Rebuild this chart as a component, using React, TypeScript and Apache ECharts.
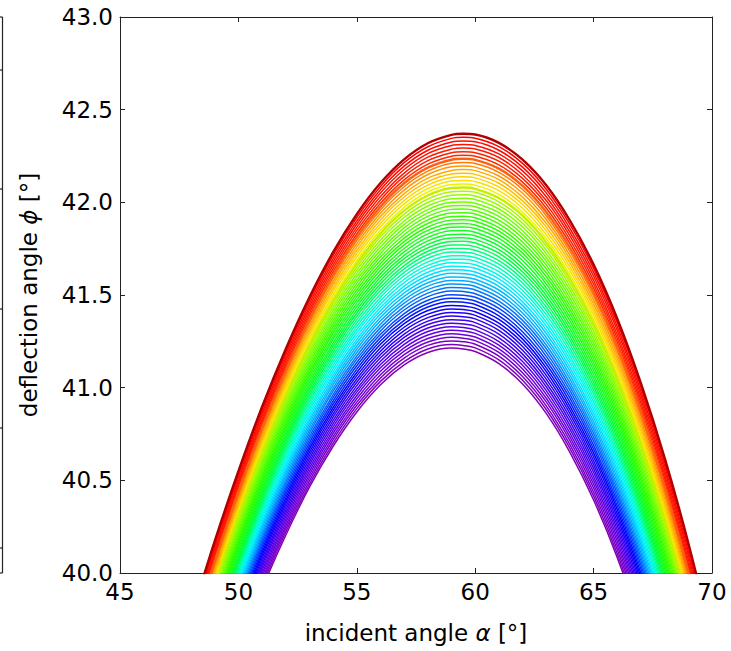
import React, { useEffect, useRef } from "react";
import * as echarts from "echarts";

// incident angle alpha (deg) at which each curve is sampled
const incidentAngles = [48, 49, 50, 51, 52, 53, 54, 55, 56, 57, 58, 59, 59.5, 60, 61, 62, 63, 64, 65, 66, 67, 68, 69, 70];

// deflection angle phi (deg); one row per incident angle, one entry per curve (curve 0 = top/red ... curve 60 = bottom/violet)
const deflectionByAngle: number[][] = [
  [39.762,39.747,39.731,39.716,39.701,39.685,39.670,39.655,39.639,39.624,39.609,39.593,39.578,39.563,39.547,39.532,39.517,39.501,39.486,39.471,39.455,39.440,39.425,39.409,39.394,39.379,39.363,39.348,39.333,39.317,39.302,39.287,39.271,39.256,39.241,39.225,39.210,39.195,39.179,39.164,39.149,39.133,39.118,39.103,39.087,39.072,39.057,39.041,39.026,39.011,38.995,38.980,38.965,38.949,38.934,38.919,38.903,38.888,38.873,38.857,38.842],
  [40.172,40.156,40.141,40.125,40.109,40.094,40.078,40.062,40.047,40.031,40.015,39.999,39.984,39.968,39.952,39.937,39.921,39.905,39.890,39.874,39.858,39.843,39.827,39.811,39.796,39.780,39.764,39.749,39.733,39.717,39.702,39.686,39.670,39.654,39.639,39.623,39.607,39.592,39.576,39.560,39.545,39.529,39.513,39.498,39.482,39.466,39.451,39.435,39.419,39.404,39.388,39.372,39.356,39.341,39.325,39.309,39.294,39.278,39.262,39.247,39.231],
  [40.549,40.533,40.517,40.501,40.485,40.469,40.453,40.437,40.421,40.405,40.389,40.373,40.357,40.341,40.325,40.309,40.293,40.276,40.260,40.244,40.228,40.212,40.196,40.180,40.164,40.148,40.132,40.116,40.100,40.084,40.068,40.052,40.036,40.020,40.004,39.988,39.972,39.956,39.940,39.924,39.908,39.892,39.876,39.860,39.844,39.828,39.811,39.795,39.779,39.763,39.747,39.731,39.715,39.699,39.683,39.667,39.651,39.635,39.619,39.603,39.587],
  [40.897,40.881,40.864,40.848,40.831,40.815,40.799,40.782,40.766,40.750,40.733,40.717,40.700,40.684,40.668,40.651,40.635,40.619,40.602,40.586,40.569,40.553,40.537,40.520,40.504,40.487,40.471,40.455,40.438,40.422,40.406,40.389,40.373,40.356,40.340,40.324,40.307,40.291,40.274,40.258,40.242,40.225,40.209,40.193,40.176,40.160,40.143,40.127,40.111,40.094,40.078,40.061,40.045,40.029,40.012,39.996,39.980,39.963,39.947,39.930,39.914],
  [41.209,41.192,41.176,41.159,41.142,41.125,41.109,41.092,41.075,41.058,41.042,41.025,41.008,40.991,40.975,40.958,40.941,40.924,40.908,40.891,40.874,40.857,40.841,40.824,40.807,40.790,40.774,40.757,40.740,40.723,40.707,40.690,40.673,40.656,40.640,40.623,40.606,40.589,40.573,40.556,40.539,40.522,40.506,40.489,40.472,40.455,40.439,40.422,40.405,40.388,40.372,40.355,40.338,40.321,40.305,40.288,40.271,40.254,40.238,40.221,40.204],
  [41.488,41.471,41.454,41.437,41.420,41.403,41.386,41.368,41.351,41.334,41.317,41.300,41.283,41.266,41.249,41.232,41.215,41.198,41.181,41.163,41.146,41.129,41.112,41.095,41.078,41.061,41.044,41.027,41.010,40.993,40.976,40.958,40.941,40.924,40.907,40.890,40.873,40.856,40.839,40.822,40.805,40.788,40.771,40.753,40.736,40.719,40.702,40.685,40.668,40.651,40.634,40.617,40.600,40.583,40.566,40.548,40.531,40.514,40.497,40.480,40.463],
  [41.731,41.714,41.696,41.679,41.661,41.644,41.626,41.609,41.591,41.574,41.557,41.539,41.522,41.504,41.487,41.469,41.452,41.434,41.417,41.399,41.382,41.365,41.347,41.330,41.312,41.295,41.277,41.260,41.242,41.225,41.208,41.190,41.173,41.155,41.138,41.120,41.103,41.085,41.068,41.050,41.033,41.016,40.998,40.981,40.963,40.946,40.928,40.911,40.893,40.876,40.859,40.841,40.824,40.806,40.789,40.771,40.754,40.736,40.719,40.701,40.684],
  [41.936,41.918,41.900,41.883,41.865,41.847,41.829,41.812,41.794,41.776,41.758,41.740,41.723,41.705,41.687,41.669,41.651,41.634,41.616,41.598,41.580,41.563,41.545,41.527,41.509,41.491,41.474,41.456,41.438,41.420,41.403,41.385,41.367,41.349,41.331,41.314,41.296,41.278,41.260,41.242,41.225,41.207,41.189,41.171,41.154,41.136,41.118,41.100,41.082,41.065,41.047,41.029,41.011,40.993,40.976,40.958,40.940,40.922,40.905,40.887,40.869],
  [42.104,42.086,42.068,42.050,42.031,42.013,41.995,41.977,41.959,41.941,41.923,41.905,41.886,41.868,41.850,41.832,41.814,41.796,41.778,41.759,41.741,41.723,41.705,41.687,41.669,41.651,41.633,41.614,41.596,41.578,41.560,41.542,41.524,41.506,41.487,41.469,41.451,41.433,41.415,41.397,41.379,41.361,41.342,41.324,41.306,41.288,41.270,41.252,41.234,41.215,41.197,41.179,41.161,41.143,41.125,41.107,41.089,41.070,41.052,41.034,41.016],
  [42.232,42.214,42.195,42.177,42.158,42.140,42.121,42.103,42.084,42.066,42.047,42.029,42.010,41.992,41.973,41.955,41.936,41.918,41.899,41.881,41.862,41.844,41.825,41.807,41.788,41.770,41.751,41.733,41.714,41.696,41.678,41.659,41.641,41.622,41.604,41.585,41.567,41.548,41.530,41.511,41.493,41.474,41.456,41.437,41.419,41.400,41.382,41.363,41.345,41.326,41.308,41.289,41.271,41.252,41.234,41.215,41.197,41.178,41.160,41.141,41.123],
  [42.319,42.300,42.281,42.263,42.244,42.225,42.206,42.187,42.168,42.150,42.131,42.112,42.093,42.074,42.056,42.037,42.018,41.999,41.980,41.961,41.943,41.924,41.905,41.886,41.867,41.849,41.830,41.811,41.792,41.773,41.755,41.736,41.717,41.698,41.679,41.660,41.642,41.623,41.604,41.585,41.566,41.548,41.529,41.510,41.491,41.472,41.453,41.435,41.416,41.397,41.378,41.359,41.341,41.322,41.303,41.284,41.265,41.246,41.228,41.209,41.190],
  [42.364,42.345,42.326,42.307,42.287,42.268,42.249,42.230,42.211,42.192,42.172,42.153,42.134,42.115,42.096,42.077,42.057,42.038,42.019,42.000,41.981,41.962,41.942,41.923,41.904,41.885,41.866,41.847,41.827,41.808,41.789,41.770,41.751,41.732,41.712,41.693,41.674,41.655,41.636,41.617,41.597,41.578,41.559,41.540,41.521,41.502,41.482,41.463,41.444,41.425,41.406,41.387,41.367,41.348,41.329,41.310,41.291,41.272,41.252,41.233,41.214],
  [42.370,42.351,42.331,42.312,42.293,42.273,42.254,42.235,42.215,42.196,42.177,42.157,42.138,42.118,42.099,42.080,42.060,42.041,42.022,42.002,41.983,41.964,41.944,41.925,41.906,41.886,41.867,41.848,41.828,41.809,41.790,41.770,41.751,41.731,41.712,41.693,41.673,41.654,41.635,41.615,41.596,41.577,41.557,41.538,41.519,41.499,41.480,41.461,41.441,41.422,41.403,41.383,41.364,41.344,41.325,41.306,41.286,41.267,41.248,41.228,41.209],
  [42.366,42.346,42.327,42.307,42.288,42.268,42.249,42.229,42.210,42.190,42.171,42.151,42.132,42.112,42.093,42.073,42.054,42.034,42.015,41.995,41.976,41.956,41.937,41.917,41.898,41.878,41.859,41.839,41.820,41.800,41.781,41.761,41.741,41.722,41.702,41.683,41.663,41.644,41.624,41.605,41.585,41.566,41.546,41.527,41.507,41.488,41.468,41.449,41.429,41.410,41.390,41.371,41.351,41.332,41.312,41.293,41.273,41.254,41.234,41.215,41.195],
  [42.321,42.301,42.281,42.261,42.242,42.222,42.202,42.182,42.162,42.142,42.123,42.103,42.083,42.063,42.043,42.023,42.003,41.984,41.964,41.944,41.924,41.904,41.884,41.864,41.845,41.825,41.805,41.785,41.765,41.745,41.726,41.706,41.686,41.666,41.646,41.626,41.606,41.587,41.567,41.547,41.527,41.507,41.487,41.467,41.448,41.428,41.408,41.388,41.368,41.348,41.329,41.309,41.289,41.269,41.249,41.229,41.209,41.190,41.170,41.150,41.130],
  [42.230,42.210,42.190,42.170,42.149,42.129,42.109,42.089,42.069,42.049,42.028,42.008,41.988,41.968,41.948,41.928,41.907,41.887,41.867,41.847,41.827,41.807,41.786,41.766,41.746,41.726,41.706,41.686,41.665,41.645,41.625,41.605,41.585,41.565,41.544,41.524,41.504,41.484,41.464,41.444,41.423,41.403,41.383,41.363,41.343,41.323,41.302,41.282,41.262,41.242,41.222,41.202,41.181,41.161,41.141,41.121,41.101,41.081,41.060,41.040,41.020],
  [42.092,42.071,42.051,42.030,42.010,41.989,41.969,41.948,41.928,41.907,41.887,41.866,41.846,41.825,41.805,41.784,41.764,41.743,41.723,41.702,41.682,41.661,41.641,41.620,41.600,41.579,41.559,41.538,41.518,41.497,41.477,41.456,41.435,41.415,41.394,41.374,41.353,41.333,41.312,41.292,41.271,41.251,41.230,41.210,41.189,41.169,41.148,41.128,41.107,41.087,41.066,41.046,41.025,41.005,40.984,40.964,40.943,40.923,40.902,40.882,40.861],
  [41.902,41.881,41.860,41.839,41.819,41.798,41.777,41.756,41.735,41.714,41.694,41.673,41.652,41.631,41.610,41.589,41.568,41.548,41.527,41.506,41.485,41.464,41.443,41.422,41.402,41.381,41.360,41.339,41.318,41.297,41.277,41.256,41.235,41.214,41.193,41.172,41.151,41.131,41.110,41.089,41.068,41.047,41.026,41.005,40.985,40.964,40.943,40.922,40.901,40.880,40.860,40.839,40.818,40.797,40.776,40.755,40.734,40.714,40.693,40.672,40.651],
  [41.664,41.643,41.622,41.601,41.579,41.558,41.537,41.516,41.495,41.474,41.452,41.431,41.410,41.389,41.368,41.347,41.325,41.304,41.283,41.262,41.241,41.220,41.198,41.177,41.156,41.135,41.114,41.093,41.071,41.050,41.029,41.008,40.987,40.966,40.944,40.923,40.902,40.881,40.860,40.839,40.817,40.796,40.775,40.754,40.733,40.712,40.690,40.669,40.648,40.627,40.606,40.585,40.563,40.542,40.521,40.500,40.479,40.458,40.436,40.415,40.394],
  [41.372,41.351,41.329,41.308,41.286,41.265,41.243,41.222,41.200,41.179,41.157,41.136,41.114,41.093,41.071,41.050,41.028,41.007,40.985,40.964,40.942,40.921,40.899,40.878,40.856,40.835,40.813,40.792,40.770,40.749,40.728,40.706,40.685,40.663,40.642,40.620,40.599,40.577,40.556,40.534,40.513,40.491,40.470,40.448,40.427,40.405,40.384,40.362,40.341,40.319,40.298,40.276,40.255,40.233,40.212,40.190,40.169,40.147,40.126,40.104,40.083],
  [41.023,41.001,40.979,40.958,40.936,40.914,40.892,40.870,40.849,40.827,40.805,40.783,40.761,40.740,40.718,40.696,40.674,40.652,40.631,40.609,40.587,40.565,40.543,40.522,40.500,40.478,40.456,40.434,40.413,40.391,40.369,40.347,40.325,40.304,40.282,40.260,40.238,40.216,40.195,40.173,40.151,40.129,40.107,40.086,40.064,40.042,40.020,39.998,39.977,39.955,39.933,39.911,39.889,39.868,39.846,39.824,39.802,39.780,39.759,39.737,39.715],
  [40.621,40.599,40.577,40.555,40.533,40.511,40.488,40.466,40.444,40.422,40.400,40.378,40.356,40.334,40.312,40.290,40.267,40.245,40.223,40.201,40.179,40.157,40.135,40.113,40.091,40.069,40.046,40.024,40.002,39.980,39.958,39.936,39.914,39.892,39.870,39.848,39.825,39.803,39.781,39.759,39.737,39.715,39.693,39.671,39.649,39.627,39.604,39.582,39.560,39.538,39.516,39.494,39.472,39.450,39.428,39.406,39.383,39.361,39.339,39.317,39.295],
  [40.162,40.140,40.117,40.095,40.072,40.050,40.028,40.005,39.983,39.960,39.938,39.916,39.893,39.871,39.848,39.826,39.804,39.781,39.759,39.736,39.714,39.692,39.669,39.647,39.624,39.602,39.580,39.557,39.535,39.512,39.490,39.468,39.445,39.423,39.400,39.378,39.356,39.333,39.311,39.288,39.266,39.244,39.221,39.199,39.176,39.154,39.132,39.109,39.087,39.064,39.042,39.020,38.997,38.975,38.952,38.930,38.908,38.885,38.863,38.840,38.818],
  [39.642,39.619,39.597,39.574,39.551,39.529,39.506,39.483,39.461,39.438,39.415,39.393,39.370,39.347,39.325,39.302,39.279,39.257,39.234,39.211,39.189,39.166,39.143,39.121,39.098,39.075,39.053,39.030,39.007,38.985,38.962,38.939,38.917,38.894,38.871,38.849,38.826,38.803,38.781,38.758,38.735,38.713,38.690,38.667,38.645,38.622,38.599,38.577,38.554,38.531,38.509,38.486,38.463,38.441,38.418,38.395,38.373,38.350,38.327,38.305,38.282],
];

const xRange = [45, 70];
const xStep = 5;
const yRange = [40, 43];
const yStep = 0.5;
const xTitle = "incident angle {i|α} [°]";
const yTitle = "deflection angle {i|ϕ} [°]";

// ---- styling ----
const FONT = "DejaVu Sans";
const FS = 23;
const colorStops: [number, [number, number, number]][] = [
  [0, [176, 0, 0]],
  [1, [255, 0, 0]],
  [6, [255, 40, 0]],
  [7, [255, 96, 16]],
  [9, [255, 150, 0]],
  [12, [255, 210, 0]],
  [14, [240, 240, 0]],
  [15, [196, 240, 0]],
  [18, [128, 255, 0]],
  [24, [40, 255, 0]],
  [30, [0, 255, 60]],
  [34, [0, 255, 190]],
  [37, [0, 240, 255]],
  [41, [0, 170, 255]],
  [45, [0, 70, 255]],
  [48, [0, 0, 255]],
  [52, [60, 0, 240]],
  [56, [110, 0, 220]],
  [60, [131, 0, 181]],
];

function colorFor(k: number): string {
  for (let i = 0; i < colorStops.length - 1; i++) {
    const [k0, c0] = colorStops[i];
    const [k1, c1] = colorStops[i + 1];
    if (k >= k0 && k <= k1) {
      const t = k1 === k0 ? 0 : (k - k0) / (k1 - k0);
      const c = c0.map((v, j) => Math.round(v + (c1[j] - v) * t));
      return `rgb(${c[0]},${c[1]},${c[2]})`;
    }
  }
  const c = colorStops[colorStops.length - 1][1];
  return `rgb(${c[0]},${c[1]},${c[2]})`;
}

export default function App() {
  const ref = useRef<HTMLDivElement>(null);

  useEffect(() => {
    if (!ref.current) return;
    const chart = echarts.init(ref.current, null, { renderer: "svg" });
    const curveCount = deflectionByAngle[0].length;
    const series: any[] = [];
    for (let k = curveCount - 1; k >= 0; k--) {
      const emph = k === 0 || k === 7 || k === 15;
      series.push({
        type: "line",
        data: incidentAngles.map((a, j) => [a, deflectionByAngle[j][k]]),
        symbol: "none",
        showSymbol: false,
        smooth: 0.35,
        clip: true,
        silent: true,
        animation: false,
        z: emph ? 3 : 2,
        lineStyle: { color: colorFor(k), width: emph ? 2.4 : 1.5 },
        emphasis: { disabled: true },
      });
    }

    const axisLine = { show: true, onZero: false, lineStyle: { color: "#222", width: 1 } };
    const axisTick = { show: true, inside: true, length: 5, lineStyle: { color: "#222", width: 1 } };
    const labelStyle = { color: "#000", fontFamily: FONT, fontSize: FS };
    const nameStyle = {
      color: "#000",
      fontFamily: FONT,
      fontSize: FS,
      rich: { i: { fontStyle: "italic", color: "#000", fontFamily: FONT, fontSize: FS } },
    };

    const tickY = [70, 189, 309, 428, 548];
    const graphic: any[] = [
      { type: "line", shape: { x1: 2.5, y1: 17, x2: 2.5, y2: 573 }, style: { stroke: "#222", lineWidth: 1.2 } },
      { type: "line", shape: { x1: 0, y1: 17, x2: 2.5, y2: 17 }, style: { stroke: "#222", lineWidth: 1.2 } },
      { type: "line", shape: { x1: 0, y1: 573, x2: 2.5, y2: 573 }, style: { stroke: "#222", lineWidth: 1.2 } },
      ...tickY.map((y) => ({
        type: "line",
        shape: { x1: 0, y1: y, x2: 2.5, y2: y },
        style: { stroke: "#222", lineWidth: 1.2 },
      })),
    ];

    chart.setOption({
      animation: false,
      backgroundColor: "#fff",
      grid: { left: 120, top: 17, width: 592, height: 556, containLabel: false, outerBoundsMode: "none" },
      xAxis: [
        {
          type: "value",
          position: "bottom",
          min: xRange[0],
          max: xRange[1],
          interval: xStep,
          axisLine,
          axisTick,
          splitLine: { show: false },
          axisLabel: { ...labelStyle, margin: 7, showMinLabel: true, showMaxLabel: true },
          name: xTitle,
          nameLocation: "middle",
          nameGap: 48,
          nameTextStyle: nameStyle,
        },
        {
          type: "value",
          position: "top",
          min: xRange[0],
          max: xRange[1],
          interval: xStep,
          axisLine,
          axisTick,
          splitLine: { show: false },
          axisLabel: { show: false },
        },
      ],
      yAxis: [
        {
          type: "value",
          position: "left",
          min: yRange[0],
          max: yRange[1],
          interval: yStep,
          axisLine,
          axisTick,
          splitLine: { show: false },
          axisLabel: {
            ...labelStyle,
            margin: 7,
            showMinLabel: true,
            showMaxLabel: true,
            formatter: (v: number) => v.toFixed(1),
          },
          name: yTitle,
          nameLocation: "middle",
          nameGap: 80,
          nameTextStyle: nameStyle,
        },
        {
          type: "value",
          position: "right",
          min: yRange[0],
          max: yRange[1],
          interval: yStep,
          axisLine,
          axisTick,
          splitLine: { show: false },
          axisLabel: { show: false },
        },
      ],
      tooltip: { show: false },
      graphic,
      series,
    });

    return () => chart.dispose();
  }, []);

  return (
    <div
      ref={ref}
      style={{ position: "absolute", left: 0, top: 0, width: 731, height: 651, background: "#fff" }}
    />
  );
}
